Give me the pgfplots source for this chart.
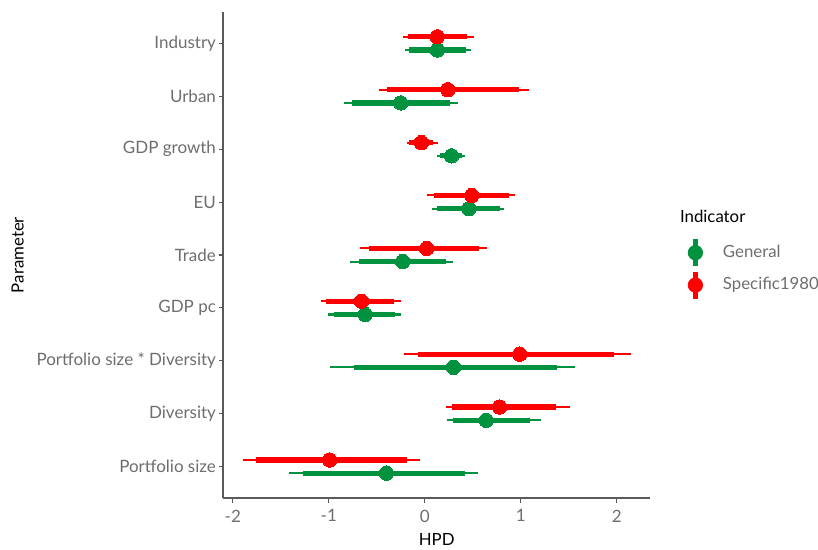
\documentclass[border=0pt]{standalone}
\usepackage{fontspec}
\setmainfont{Lato}
\usepackage{pgfplots}
\usepackage{pgfplotstable}
\pgfplotsset{compat=1.18}
\definecolor{ggreen}{RGB}{0,146,63}
\definecolor{gred}{RGB}{255,0,0}
\definecolor{ticktext}{RGB}{110,110,110}
\definecolor{axline}{RGB}{90,90,90}

% y = category position (+/- dodge), mid = point estimate, lo/hi95 = thin interval, lo/hi80 = thick interval
\pgfplotstableread{
y     mid    lo95   hi95   lo80   hi80
0.875 -0.40  -1.41  0.56   -1.27  0.42
1.875 0.64   0.23   1.21   0.29   1.10
2.875 0.30   -0.99  1.57   -0.74  1.38
3.875 -0.62  -1.01  -0.25  -0.95  -0.31
4.875 -0.23  -0.78  0.29   -0.68  0.22
5.875 0.46   0.08   0.83   0.13   0.78
6.875 0.28   0.13   0.42   0.16   0.385
7.875 -0.25  -0.84  0.35   -0.76  0.26
8.875 0.13   -0.21  0.48   -0.16  0.43
}\general

\pgfplotstableread{
y     mid    lo95   hi95   lo80   hi80
1.125 -0.99  -1.89  -0.05  -1.76  -0.18
2.125 0.78   0.22   1.51   0.28   1.37
3.125 0.99   -0.22  2.15   -0.07  1.97
4.125 -0.66  -1.08  -0.25  -1.03  -0.32
5.125 0.02   -0.67  0.65   -0.58  0.57
6.125 0.49   0.02   0.94   0.10   0.88
7.125 -0.035 -0.18  0.135  -0.16  0.09
8.125 0.24   -0.48  1.09   -0.39  0.98
9.125 0.13   -0.23  0.51   -0.17  0.44
}\specific

\begin{document}
\begin{tikzpicture}
\begin{axis}[
  scale only axis,
  width=213.3pt, height=243.3pt,
  xmin=-2.098, xmax=2.347,
  ymin=0.4, ymax=9.6,
  axis x line*=bottom, axis y line*=left,
  axis line style={draw=axline, line width=0.9pt},
  tick align=outside,
  major tick length=2.2pt,
  tick style={draw=axline, line width=0.6pt},
  xtick={-2,-1,0,1,2},
  ytick={1,2,3,4,5,6,7,8,9},
  yticklabels={Portfolio size, Diversity, Portfolio size * Diversity, GDP pc, Trade, EU, GDP growth, Urban, Industry},
  /pgf/number format/assume math mode=true,
  ticklabel style={font=\fontsize{8.5}{9}\selectfont, text=ticktext},
  yticklabel style={xshift=2pt},
  xlabel={HPD}, ylabel={Parameter},
  label style={font=\fontsize{8.4}{9}\selectfont, text=black},
  xlabel style={at={(axis description cs:0.5,0)}, anchor=center, yshift=-20.8pt},
  ylabel style={at={(axis description cs:-0.4823,0.5)}, anchor=center},
  legend style={at={(axis description cs:1.0736,0.4714)}, anchor=west, draw=none, fill=none,
     font=\fontsize{8.4}{9}\selectfont, text=ticktext, row sep=0pt, column sep=8pt},
  legend cell align=left,
  clip=false,
]
% General (green)
\addplot[ggreen, only marks, mark=none, forget plot,
  error bars/.cd, x dir=both, x explicit, error mark=none,
  error bar style={draw=ggreen, line width=1pt}]
  table[x=mid, y=y, x error minus expr=\thisrow{mid}-\thisrow{lo95}, x error plus expr=\thisrow{hi95}-\thisrow{mid}] {\general};
\addplot[ggreen, only marks, mark=none, forget plot,
  error bars/.cd, x dir=both, x explicit, error mark=none,
  error bar style={draw=ggreen, line width=2.6pt}]
  table[x=mid, y=y, x error minus expr=\thisrow{mid}-\thisrow{lo80}, x error plus expr=\thisrow{hi80}-\thisrow{mid}] {\general};
\addplot[ggreen, only marks, mark=*, mark size=3.6pt, mark options={draw=ggreen, fill=ggreen, line width=0pt}, forget plot]
  table[x=mid, y=y] {\general};
% Specific1980 (red)
\addplot[gred, only marks, mark=none, forget plot,
  error bars/.cd, x dir=both, x explicit, error mark=none,
  error bar style={draw=gred, line width=1pt}]
  table[x=mid, y=y, x error minus expr=\thisrow{mid}-\thisrow{lo95}, x error plus expr=\thisrow{hi95}-\thisrow{mid}] {\specific};
\addplot[gred, only marks, mark=none, forget plot,
  error bars/.cd, x dir=both, x explicit, error mark=none,
  error bar style={draw=gred, line width=2.6pt}]
  table[x=mid, y=y, x error minus expr=\thisrow{mid}-\thisrow{lo80}, x error plus expr=\thisrow{hi80}-\thisrow{mid}] {\specific};
\addplot[gred, only marks, mark=*, mark size=3.6pt, mark options={draw=gred, fill=gred, line width=0pt}, forget plot]
  table[x=mid, y=y] {\specific};

\addlegendimage{legend image code/.code={\draw[line width=2.6pt, ggreen] (0pt,-6.8pt) -- (0pt,6.8pt); \fill[ggreen] (0pt,0pt) circle (3.6pt);}}
\addlegendentry{General}
\addlegendimage{legend image code/.code={\draw[line width=2.6pt, gred] (0pt,-6.8pt) -- (0pt,6.8pt); \fill[gred] (0pt,0pt) circle (3.6pt);}}
\addlegendentry{Specific1980}
\end{axis}
\node[anchor=base west, font=\fontsize{8.4}{9}\selectfont] at ([shift={(11.5pt,16pt)}]current axis.east) {Indicator};
\pgfresetboundingbox
\useasboundingbox ([shift={(-111.7pt,-25.85pt)}]current axis.south west) rectangle ([shift={(84pt,5.85pt)}]current axis.north east);
\end{tikzpicture}
\end{document}
